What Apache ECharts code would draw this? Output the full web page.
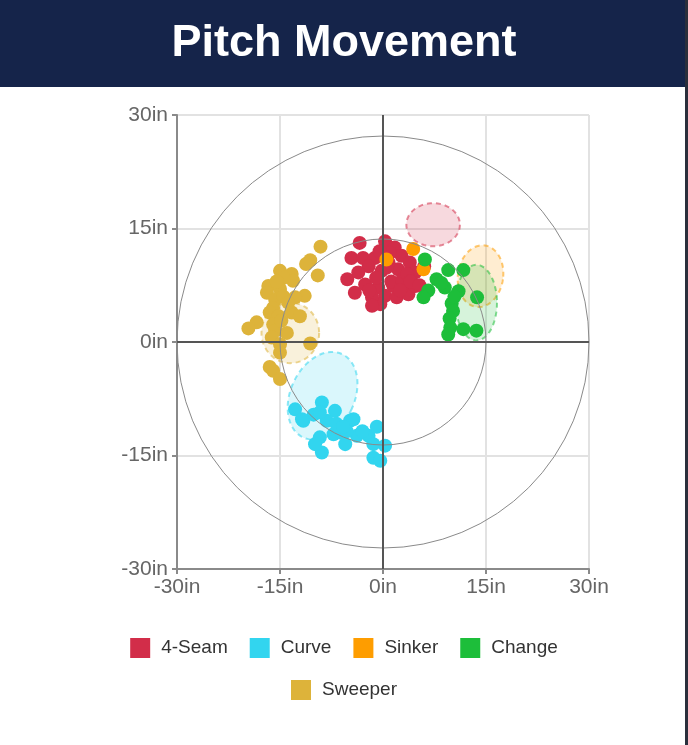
<!DOCTYPE html>
<html>
<head>
<meta charset="utf-8">
<script src="https://cdn.jsdelivr.net/npm/echarts@6/dist/echarts.min.js"></script>
<style>
  html, body { margin: 0; padding: 0; background: #fff; }
  #chart { width: 688px; height: 745px; }
</style>
</head>
<body>
<div id="chart"></div>
<script>
// pitch types, in legend order
const PITCHES = ['4-Seam', 'Curve', 'Sinker', 'Change', 'Sweeper'];
const COLORS = ['#D22D49', '#32D5EF', '#FE9D00', '#1DBE3A', '#DDB33A'];
const AXIS_TICKS = [-30, -15, 0, 15, 30];

// [horizontal break, induced vertical break] in inches
const fourSeam = [
  [-3.4, 13.1], [0.3, 13.3], [1.7, 12.5], [-4.6, 11.1], [-2.9, 11.1], [-1.2, 11.1],
  [2.7, 11.4], [-5.2, 8.3], [-4.1, 6.5], [-2.1, 10.0], [-0.2, 9.4], [2.2, 9.6],
  [3.9, 10.5], [4.7, 9.2], [-2.6, 7.6], [-0.7, 7.2], [1.5, 7.4], [3.2, 7.4],
  [0.3, 6.1], [2.0, 5.9], [3.7, 6.3], [-0.4, 5.0], [4.7, 7.4], [-1.6, 5.9],
  [-3.6, 9.2], [0.8, 10.5], [-1.0, 8.5], [1.2, 8.0], [2.8, 8.2], [0.5, 9.8],
  [-2.0, 6.8], [3.5, 9.0], [1.0, 11.8], [-0.5, 12.0], [2.5, 6.8], [4.0, 8.0],
  [6.0, 10.0], [5.3, 7.5], [-1.6, 4.8]
];
const curve = [
  [-12.8, -8.9], [-8.9, -8.0], [-10.1, -9.6], [-11.6, -10.4], [-7.0, -9.1], [-8.2, -10.4],
  [-4.8, -10.4], [-9.2, -12.6], [-7.2, -12.2], [-5.5, -13.5], [-3.8, -12.4], [-8.9, -14.6],
  [-6.0, -12.0], [-2.1, -12.4], [-0.9, -11.2], [-1.4, -13.5], [0.3, -13.7], [-1.4, -15.3],
  [-0.4, -15.7], [-9.9, -13.5], [-9.2, -9.3], [-4.3, -10.2], [-11.8, -10.2], [-5.3, -11.8],
  [-6.8, -10.8], [-5.8, -11.2], [-3.0, -11.8]
];
const sinker = [
  [4.4, 12.3], [0.5, 10.9], [5.9, 9.6]
];
const change = [
  [6.1, 10.9], [9.5, 9.5], [11.7, 9.5], [7.8, 8.3], [9.0, 7.2], [6.6, 6.8],
  [5.9, 5.9], [11.0, 6.7], [13.7, 5.9], [10.0, 5.1], [10.2, 4.1], [9.7, 3.1],
  [9.8, 1.9], [9.5, 1.0], [11.7, 1.7], [13.6, 1.5], [8.5, 7.8], [10.4, 6.0]
];
const sweeper = [
  [-9.1, 12.6], [-10.6, 10.8], [-11.2, 10.3], [-9.5, 8.8], [-15.0, 9.4], [-13.3, 9.0],
  [-13.1, 8.1], [-14.5, 8.5], [-16.7, 7.4], [-16.9, 6.5], [-15.0, 7.0], [-11.4, 6.1],
  [-12.8, 5.9], [-15.7, 5.6], [-16.0, 4.5], [-16.5, 3.9], [-13.3, 3.9], [-12.1, 3.4],
  [-15.2, 3.4], [-18.4, 2.6], [-19.6, 1.8], [-16.0, 2.3], [-15.7, 1.5], [-14.0, 1.2],
  [-16.2, 0.6], [-15.0, -0.3], [-10.6, -0.2], [-15.0, -1.4], [-16.5, -3.3], [-16.0, -3.8],
  [-15.0, -4.9], [-14.5, 6.0], [-15.5, 8.0], [-13.8, 5.2], [-14.8, 2.8]
];
const pitchData = [fourSeam, curve, sinker, change, sweeper];

// league-average zones per pitch: [cx, cy, rx, ry, tilt deg]
const zones = [
  [7.3, 15.5, 3.9, 2.85, 0],
  [-8.8, -7.1, 4.66, 6.08, 25],
  [14.2, 8.7, 3.3, 4.1, 8],
  [13.6, 5.2, 3.0, 5.0, 0],
  [-13.5, 1.2, 4.2, 4.0, 0]
];

// reference rings: [cx, cy, radius]
const rings = [[0, 0, 15], [0, 0, 30]];
const zeroX = [[-30, 0], [30, 0]];
const zeroY = [[0, -30], [0, 30]];

const FONT = 'Liberation Sans, Arial, sans-serif';

function hexA(hex, a) {
  const n = parseInt(hex.slice(1), 16);
  return 'rgba(' + (n >> 16) + ',' + ((n >> 8) & 255) + ',' + (n & 255) + ',' + a + ')';
}

let chart = echarts.init(document.getElementById('chart'));

let series = [];

// zones under the dots
PITCHES.forEach((p, i) => {
  series.push({
    type: 'custom',
    silent: true,
    z: 1,
    data: [zones[i]],
    renderItem: (params, api) => {
      const c = api.coord([api.value(0), api.value(1)]);
      const rx = api.size([api.value(2), 0])[0];
      const ry = api.size([0, api.value(3)])[1];
      const phi = api.value(4) * Math.PI / 180;
      let pts = [];
      for (let k = 0; k < 72; k++) {
        const t = k / 72 * Math.PI * 2;
        const ux = rx * Math.cos(t), uy = ry * Math.sin(t);
        pts.push([c[0] + ux * Math.cos(phi) - uy * Math.sin(phi),
                  c[1] + ux * Math.sin(phi) + uy * Math.cos(phi)]);
      }
      return {
        type: 'polygon',
        shape: { points: pts },
        style: {
          fill: hexA(COLORS[i], 0.18),
          stroke: hexA(COLORS[i], 0.55),
          lineWidth: 2,
          lineDash: [5, 4]
        }
      };
    }
  });
});

PITCHES.forEach((p, i) => {
  series.push({
    name: p,
    type: 'scatter',
    z: 2,
    symbolSize: 14,
    itemStyle: { color: COLORS[i], opacity: 1 },
    emphasis: { disabled: true },
    data: pitchData[i]
  });
});

series.push({
  type: 'custom',
  silent: true,
  z: 3,
  data: rings,
  renderItem: (params, api) => {
    const c = api.coord([api.value(0), api.value(1)]);
    const r = api.size([api.value(2), 0])[0];
    return {
      type: 'circle',
      shape: { cx: c[0], cy: c[1], r: r },
      style: { fill: 'none', stroke: '#8a8a8a', lineWidth: 1 }
    };
  }
});

[zeroX, zeroY].forEach(d => {
  series.push({
    type: 'line',
    silent: true,
    z: 4,
    showSymbol: false,
    lineStyle: { color: '#555', width: 2 },
    data: d
  });
});

const legendText = { fontSize: 19, color: '#333', fontFamily: FONT, padding: [0, 0, 0, 6] };

let option = {
  animation: false,
  backgroundColor: '#fff',
  title: {
    text: 'Pitch Movement',
    left: 'center',
    top: 16,
    textStyle: { color: '#fff', fontSize: 45, fontWeight: 'bold', fontFamily: FONT }
  },
  graphic: [
    { type: 'rect', z: -10, shape: { x: 0, y: 0, width: 688, height: 87 }, style: { fill: '#15244A' } },
    { type: 'rect', z: -10, shape: { x: 685, y: 0, width: 3, height: 745 }, style: { fill: '#2A2F3C' } }
  ],
  legend: [
    {
      data: PITCHES.slice(0, 4),
      left: 'center',
      top: 638,
      padding: 0,
      icon: 'rect',
      itemWidth: 20,
      itemHeight: 20,
      itemGap: 22,
      selectedMode: false,
      textStyle: legendText
    },
    {
      data: PITCHES.slice(4),
      left: 'center',
      top: 680,
      padding: 0,
      icon: 'rect',
      itemWidth: 20,
      itemHeight: 20,
      selectedMode: false,
      textStyle: legendText
    }
  ],
  grid: { left: 177, right: 99, top: 115, bottom: 176, containLabel: false },
  xAxis: {
    type: 'value',
    min: AXIS_TICKS[0],
    max: AXIS_TICKS[AXIS_TICKS.length - 1],
    interval: 15,
    axisLine: { onZero: false, lineStyle: { color: '#8a8a8a', width: 2 } },
    axisTick: { show: true, length: 5, lineStyle: { color: '#8a8a8a', width: 2 } },
    axisLabel: { formatter: '{value}in', color: '#666', fontSize: 21, fontFamily: FONT, margin: 8 },
    splitLine: { show: true, lineStyle: { color: '#e2e2e2', width: 2 } }
  },
  yAxis: {
    type: 'value',
    min: AXIS_TICKS[0],
    max: AXIS_TICKS[AXIS_TICKS.length - 1],
    interval: 15,
    axisLine: { show: true, onZero: false, lineStyle: { color: '#8a8a8a', width: 2 } },
    axisTick: { show: true, length: 5, lineStyle: { color: '#8a8a8a', width: 2 } },
    axisLabel: { formatter: '{value}in', color: '#666', fontSize: 21, fontFamily: FONT, margin: 9 },
    splitLine: { show: true, lineStyle: { color: '#e2e2e2', width: 2 } }
  },
  series: series
};

chart.setOption(option);
window.addEventListener('resize', () => { chart.resize(); });
</script>
</body>
</html>
